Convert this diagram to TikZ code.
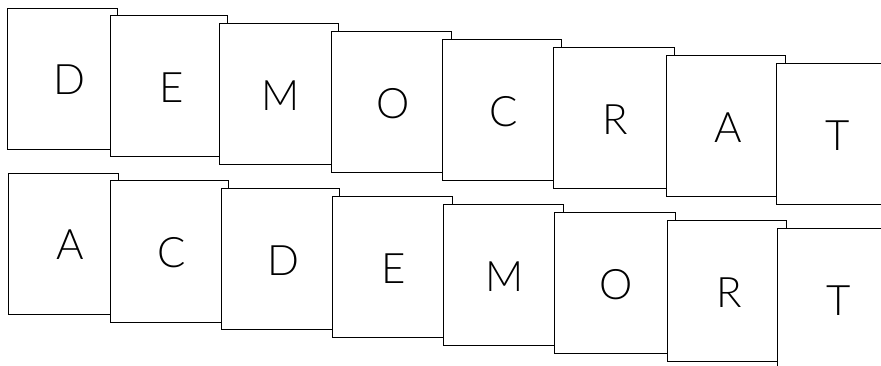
\documentclass[tikz,border=0pt]{standalone}
\usepackage{fontspec}
\newfontfamily\cardfont{Lato Light}
\tikzset{
  card/.style={draw, fill=white, line width=0.8pt, anchor=north west,
    minimum height=141pt, inner sep=0pt, outer sep=0pt},
  letter/.style={font=\cardfont\fontsize{42}{42}\selectfont, inner sep=0pt},
}
\begin{document}
\begin{tikzpicture}[x=1pt, y=-1pt]
  \useasboundingbox (0,0) rectangle (881,366);
  \clip (0,0) rectangle (881,366);
  % top row: the word as it is spelled
  \foreach \l/\x/\w [count=\i] in {D/7/110, E/110/117, M/219/119, O/331/120,
      C/442/119, R/553/121, A/666/119, T/776/119} {
    \node[card, minimum width=\w pt] (up\i) at (\x, 0.1+7.9*\i) {};
    \node[letter] (upl\i) at ([shift={(62,72)}]up\i.north west) {\l};
  }
  % bottom row: the same letters sorted
  \foreach \l/\x/\w [count=\i] in {A/8/110, C/110/118, D/221/118, E/332/120,
      M/443/120, O/554/121, R/667/119, T/777/119} {
    \node[card, minimum width=\w pt] (lo\i) at (\x, 165.1+7.9*\i) {};
    \node[letter] (lol\i) at ([shift={(62,72)}]lo\i.north west) {\l};
  }
\end{tikzpicture}
\end{document}
